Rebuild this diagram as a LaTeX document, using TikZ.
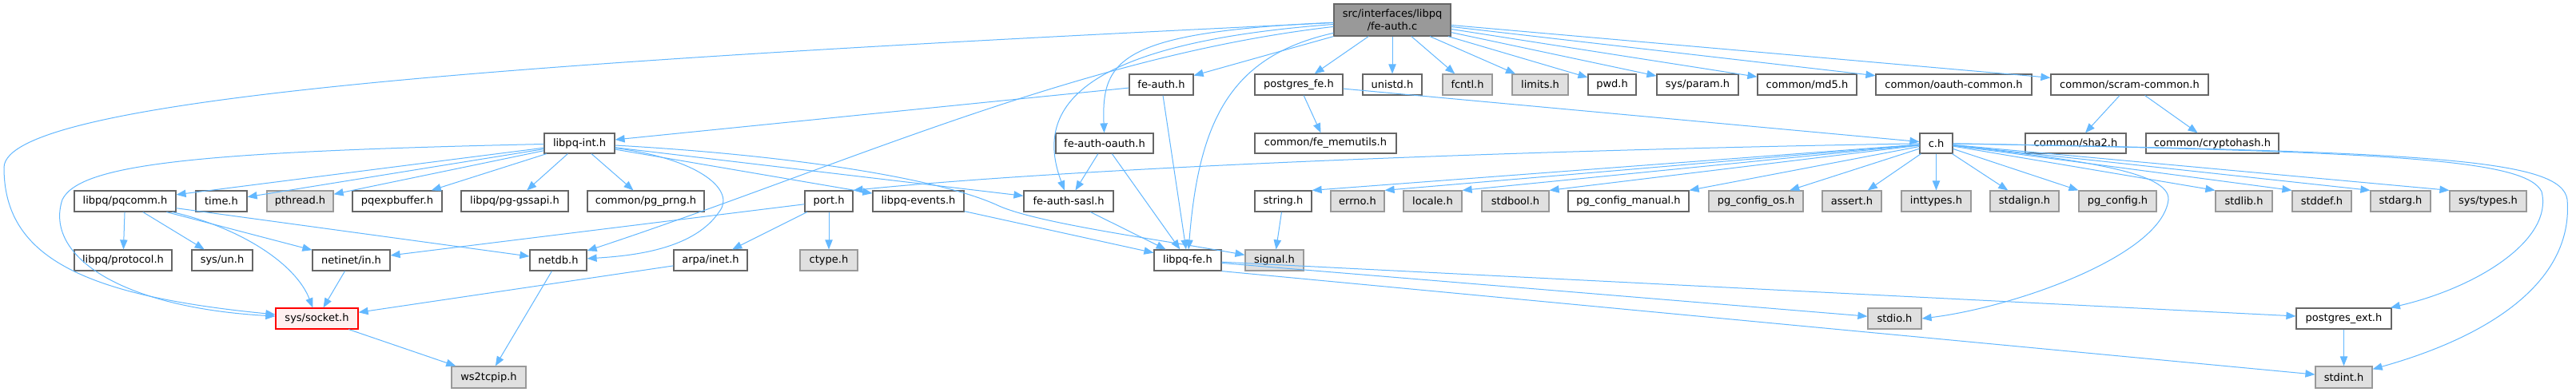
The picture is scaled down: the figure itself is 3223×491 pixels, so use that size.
\documentclass[tikz,border=0pt]{standalone}
\usepackage{fontspec}
\setmainfont{DejaVu Sans}
\usetikzlibrary{arrows.meta}
\definecolor{edgeblue}{HTML}{63B8FF}
\definecolor{bdark}{HTML}{666666}
\definecolor{blight}{HTML}{999999}
\definecolor{gfill}{HTML}{E0E0E0}
\definecolor{topfill}{HTML}{999999}
\definecolor{redfill}{HTML}{FFF0F0}
\newcommand\nd[7]{%
  \pgfmathsetmacro\ndW{(#4-#3)*0.75}%
  \pgfmathsetmacro\ndH{(#6-#5)*0.75}%
  \node[#1,minimum width=\ndW pt,minimum height=\ndH pt] (#2) at ({(#3+#4)/2},{(#5+#6)/2}) {#7};}
\tikzset{
  nbox/.style={draw=bdark, fill=white, line width=0.9pt, inner sep=0pt,
    font=\fontsize{9.75}{12}\selectfont},
  gbox/.style={nbox, draw=blight, fill=gfill},
  topbox/.style={nbox, draw=bdark, fill=topfill, align=center},
  redbox/.style={nbox, draw=red, fill=redfill},
  edge/.style={draw=edgeblue, line width=0.75pt, -{Triangle[length=9pt,width=7pt]}},
}
\begin{document}
\begin{tikzpicture}[x=0.75pt,y=-0.75pt]
\fill[white] (0,0) rectangle (3223,491);
\useasboundingbox (0,0) rectangle (3223,491);
% row 1
\nd{topbox}{top}{1669}{1815}{5}{45}{src/interfaces/libpq\\/fe-auth.c}
% row 2
\nd{nbox}{feauth}{1413}{1493}{93}{119}{fe-auth.h}
\nd{nbox}{pgfe}{1570}{1680}{93}{119}{postgres\_fe.h}
\nd{nbox}{unistd}{1705}{1779}{93}{119}{unistd.h}
\nd{gbox}{fcntl}{1805}{1867}{93}{119}{fcntl.h}
\nd{gbox}{limits}{1892}{1962}{93}{119}{limits.h}
\nd{nbox}{pwd}{1987}{2047}{93}{119}{pwd.h}
\nd{nbox}{sysparam}{2073}{2175}{93}{119}{sys/param.h}
\nd{nbox}{md5}{2199}{2323}{93}{119}{common/md5.h}
\nd{nbox}{oauthc}{2347}{2542}{93}{119}{common/oauth-common.h}
\nd{nbox}{scram}{2566}{2763}{93}{119}{common/scram-common.h}
% row 3
\nd{nbox}{libpqint}{681}{769}{167}{192}{libpq-int.h}
\nd{nbox}{feoauth}{1321}{1443}{167}{192}{fe-auth-oauth.h}
\nd{nbox}{memutils}{1570}{1747}{167}{192}{common/fe\_memutils.h}
\nd{nbox}{ch}{2402}{2443}{167}{192}{c.h}
\nd{nbox}{sha2}{2534}{2660}{167}{192}{common/sha2.h}
\nd{nbox}{cryptohash}{2685}{2851}{167}{192}{common/cryptohash.h}
% row 4
\nd{nbox}{pqcomm}{93}{220}{239}{265}{libpq/pqcomm.h}
\nd{nbox}{time}{245}{309}{239}{265}{time.h}
\nd{gbox}{pthread}{334}{417}{239}{265}{pthread.h}
\nd{nbox}{pqexpbuffer}{441}{553}{239}{265}{pqexpbuffer.h}
\nd{nbox}{gssapi}{577}{711}{239}{265}{libpq/pg-gssapi.h}
\nd{nbox}{prng}{735}{881}{239}{265}{common/pg\_prng.h}
\nd{nbox}{port}{1007}{1067}{239}{265}{port.h}
\nd{nbox}{events}{1092}{1206}{239}{265}{libpq-events.h}
\nd{nbox}{sasl}{1281}{1393}{239}{265}{fe-auth-sasl.h}
\nd{nbox}{string}{1570}{1641}{239}{265}{string.h}
\nd{gbox}{errno}{1665}{1732}{239}{265}{errno.h}
\nd{gbox}{locale}{1756}{1829}{239}{265}{locale.h}
\nd{gbox}{stdbool}{1854}{1938}{239}{265}{stdbool.h}
\nd{nbox}{pgcm}{1962}{2113}{239}{265}{pg\_config\_manual.h}
\nd{gbox}{pgcos}{2138}{2256}{239}{265}{pg\_config\_os.h}
\nd{gbox}{assert}{2280}{2354}{239}{265}{assert.h}
\nd{gbox}{inttypes}{2379}{2466}{239}{265}{inttypes.h}
\nd{gbox}{stdalign}{2490}{2576}{239}{265}{stdalign.h}
\nd{gbox}{pgconfig}{2601}{2698}{239}{265}{pg\_config.h}
\nd{gbox}{stdlib}{2772}{2843}{239}{265}{stdlib.h}
\nd{gbox}{stddef}{2868}{2942}{239}{265}{stddef.h}
\nd{gbox}{stdarg}{2966}{3041}{239}{265}{stdarg.h}
\nd{gbox}{systypes}{3065}{3161}{239}{265}{sys/types.h}
% row 5
\nd{nbox}{protocol}{93}{215}{313}{339}{libpq/protocol.h}
\nd{nbox}{sysun}{240}{316}{313}{339}{sys/un.h}
\nd{nbox}{netinet}{391}{488}{313}{339}{netinet/in.h}
\nd{nbox}{netdb}{663}{734}{313}{339}{netdb.h}
\nd{nbox}{arpa}{843}{935}{313}{339}{arpa/inet.h}
\nd{gbox}{ctype}{1001}{1073}{313}{339}{ctype.h}
\nd{nbox}{libpqfe}{1444}{1528}{313}{339}{libpq-fe.h}
\nd{gbox}{signal}{1558}{1631}{313}{339}{signal.h}
% row 6
\nd{redbox}{socket}{345}{448}{386}{412}{sys/socket.h}
\nd{gbox}{stdio}{2337}{2404}{386}{412}{stdio.h}
\nd{nbox}{pgext}{2873}{2992}{386}{412}{postgres\_ext.h}
% row 7
\nd{gbox}{ws2}{565}{658}{459}{486}{ws2tcpip.h}
\nd{gbox}{stdint}{2897}{2968}{459}{486}{stdint.h}

% edges from fe-auth.c
\draw[edge] (top) .. controls (700,75) and (5,120) .. (5,210) .. controls (5,320) and (100,370) .. (socket);
\draw[edge] (top) .. controls (1350,70) and (1050,210) .. (netdb);
\draw[edge] (top) .. controls (1340,55) and (1295,140) .. (sasl);
\draw[edge] (top) .. controls (1400,40) and (1378,75) .. (feoauth);
\draw[edge] (top) -- (feauth);
\draw[edge] (top) .. controls (1540,70) and (1500,150) .. (libpqfe);
\draw[edge] (top) -- (pgfe);
\draw[edge] (top) -- (unistd);
\draw[edge] (top) -- (fcntl);
\draw[edge] (top) -- (limits);
\draw[edge] (top) -- (pwd);
\draw[edge] (top) -- (sysparam);
\draw[edge] (top) -- (md5);
\draw[edge] (top) -- (oauthc);
\draw[edge] (top) -- (scram);
% row 2 sources
\draw[edge] (feauth) -- (libpqint);
\draw[edge] (feauth) -- (libpqfe);
\draw[edge] (pgfe) -- (memutils);
\draw[edge] (pgfe) -- (ch);
\draw[edge] (scram) -- (sha2);
\draw[edge] (scram) -- (cryptohash);
% row 3 sources
\draw[edge] (feoauth) -- (sasl);
\draw[edge] (feoauth) -- (libpqfe);
\draw[edge] (libpqint) .. controls (250,190) and (100,205) .. (78,250) .. controls (55,320) and (150,385) .. (socket);
\draw[edge] (libpqint) -- (pqcomm);
\draw[edge] (libpqint) -- (time);
\draw[edge] (libpqint) -- (pthread);
\draw[edge] (libpqint) -- (pqexpbuffer);
\draw[edge] (libpqint) -- (gssapi);
\draw[edge] (libpqint) -- (prng);
\draw[edge] (libpqint) -- (events);
\draw[edge] (libpqint) -- (sasl);
\draw[edge] (libpqint) .. controls (1000,195) and (1180,225) .. (1250,258) .. controls (1300,280) and (1450,300) .. (signal);
\draw[edge] (libpqint) .. controls (880,200) and (920,240) .. (900,265) .. controls (870,310) and (800,320) .. (netdb);
% c.h
\draw[edge] (ch) .. controls (1900,188) and (1350,210) .. (port.north east);
\draw[edge] (ch) -- (string.north east);
\draw[edge] (ch) -- (errno.north east);
\draw[edge] (ch) -- (locale.north east);
\draw[edge] (ch) -- (stdbool.north east);
\draw[edge] (ch) -- (pgcm.north east);
\draw[edge] (ch) -- (pgcos);
\draw[edge] (ch) -- (assert);
\draw[edge] (ch) -- (inttypes);
\draw[edge] (ch) -- (stdalign);
\draw[edge] (ch) -- (pgconfig.north west);
\draw[edge] (ch) -- (stdlib.north west);
\draw[edge] (ch) -- (stddef.north west);
\draw[edge] (ch) -- (stdarg.north west);
\draw[edge] (ch) -- (systypes.north west);
\draw[edge] (ch) .. controls (2600,200) and (2715,215) .. (2713,250) .. controls (2705,320) and (2520,385) .. (stdio.east);
\draw[edge] (ch) .. controls (3000,190) and (3160,200) .. (3180,240) .. controls (3195,300) and (3100,360) .. (pgext);
\draw[edge] (ch) .. controls (3050,190) and (3205,200) .. (3212,250) .. controls (3220,350) and (3120,420) .. (stdint);
% row 4 sources
\draw[edge] (pqcomm) -- (protocol);
\draw[edge] (pqcomm) -- (sysun);
\draw[edge] (pqcomm) -- (netinet);
\draw[edge] (pqcomm) .. controls (300,285) and (370,330) .. (socket);
\draw[edge] (pqcomm) -- (netdb);
\draw[edge] (port) -- (netinet);
\draw[edge] (port) -- (arpa);
\draw[edge] (port) -- (ctype);
\draw[edge] (events) -- (libpqfe);
\draw[edge] (sasl) -- (libpqfe);
\draw[edge] (string) -- (signal);
% row 5 sources
\draw[edge] (netinet) -- (socket);
\draw[edge] (netdb) -- (ws2);
\draw[edge] (arpa) -- (socket);
\draw[edge] (libpqfe) -- (stdio);
\draw[edge] (libpqfe) -- (pgext);
\draw[edge] (libpqfe.south east) -- (stdint);
% row 6 sources
\draw[edge] (socket) -- (ws2);
\draw[edge] (pgext) -- (stdint);
\end{tikzpicture}
\end{document}
